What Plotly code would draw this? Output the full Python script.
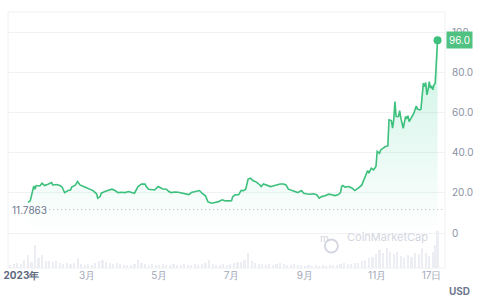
import pandas as pd
import plotly.graph_objects as go

BASE_DATE = "2023-01-01"

# price series: day offsets from BASE_DATE and price (USD)
price_days = [
    9, 11, 14, 15, 16, 19, 21, 23, 26, 29,
    30, 33, 36, 38, 39, 40, 43, 45, 46, 47,
    49, 51, 53, 56, 59, 61, 64, 67, 68, 70,
    71, 74, 77, 80, 83, 85, 88, 91, 94, 97,
    99, 102, 105, 108, 109, 111, 114, 116, 119, 121,
    123, 126, 128, 130, 133, 136, 139, 142, 145, 147,
    150, 153, 154, 156, 159, 161, 164, 167, 170, 173,
    175, 178, 181, 182, 184, 187, 189, 191, 193, 195,
    197, 199, 202, 205, 206, 208, 211, 214, 216, 219,
    222, 225, 227, 229, 232, 235, 237, 240, 242, 244,
    247, 250, 253, 255, 257, 260, 263, 266, 268, 271,
    273, 274, 275, 277, 280, 283, 285, 288, 290, 291,
    292, 294, 296, 297, 299, 301, 303, 304, 306, 307,
    309, 311, 313, 314, 316, 317, 318, 319, 320, 322,
    323, 324, 326, 327, 328, 329, 330, 331, 333, 334,
    335, 337, 338, 340, 341, 343, 344, 345, 346, 347,
    348, 349, 350, 351, 352, 353, 355,
]
prices = [
    15.4, 16.1, 23.5, 21.9, 23.7, 23.5, 24.9, 23.7, 24.4, 25.2,
    24.0, 24.2, 23.7, 22.9, 21.5, 20.2, 21.2, 21.5, 22.9, 23.2,
    23.9, 25.7, 24.0, 23.2, 22.4, 21.9, 21.2, 19.6, 17.4, 18.2,
    19.9, 20.7, 21.5, 21.9, 21.1, 20.2, 20.4, 20.2, 20.7, 20.2,
    19.9, 23.2, 24.5, 24.4, 23.2, 21.9, 21.5, 21.5, 23.2, 22.4,
    22.0, 21.9, 20.7, 20.2, 20.5, 20.4, 19.9, 19.6, 19.2, 20.2,
    20.5, 20.9, 21.2, 19.9, 18.6, 15.7, 14.9, 15.3, 15.7, 16.6,
    16.2, 16.1, 16.2, 18.2, 19.1, 19.1, 21.2, 21.2, 21.9, 26.9,
    27.4, 26.2, 25.4, 24.0, 23.2, 24.5, 24.0, 23.2, 23.5, 24.0,
    24.5, 24.5, 24.0, 21.9, 21.2, 20.7, 20.2, 21.2, 19.9, 19.6,
    19.4, 19.6, 19.1, 17.4, 18.2, 18.6, 19.4, 19.1, 18.7, 19.1,
    20.2, 23.2, 23.7, 22.9, 23.2, 22.4, 21.2, 22.4, 23.7, 23.9,
    25.4, 28.2, 31.2, 29.9, 32.3, 31.5, 33.2, 40.6, 39.8, 41.4,
    42.3, 43.1, 43.4, 56.4, 56.0, 52.2, 56.4, 65.5, 58.0, 58.0,
    61.0, 57.2, 52.2, 56.4, 58.0, 57.2, 58.4, 55.5, 58.0, 58.8,
    59.7, 63.3, 61.7, 61.3, 61.7, 74.6, 72.9, 74.9, 68.8, 71.3,
    75.4, 72.1, 73.3, 71.3, 73.8, 74.6, 96.0,
]

# volume (relative units) every ~3 days
volume_days = [
    -6, -3, 0, 3, 6, 9, 12, 15, 18, 21,
    24, 27, 30, 33, 36, 39, 42, 45, 48, 51,
    54, 57, 60, 63, 66, 69, 72, 75, 78, 81,
    84, 87, 90, 93, 96, 99, 102, 105, 108, 111,
    114, 117, 120, 123, 126, 129, 132, 135, 138, 141,
    144, 147, 150, 153, 156, 159, 162, 165, 168, 171,
    174, 177, 180, 183, 186, 189, 192, 195, 198, 201,
    204, 207, 210, 213, 216, 219, 222, 225, 228, 231,
    234, 237, 240, 243, 246, 249, 252, 255, 258, 261,
    264, 267, 270, 273, 276, 279, 282, 285, 288, 291,
    294, 297, 300, 303, 306, 309, 312, 315, 318, 321,
    324, 327, 330, 333, 336, 339, 342, 345, 348, 351,
    353, 355,
]
volumes = [
    3, 4, 5, 4, 8, 13, 6, 23, 10, 13,
    7, 7, 6, 7, 5, 4, 5, 4, 5, 10,
    4, 3, 4, 3, 5, 7, 8, 6, 5, 4,
    5, 4, 3, 3, 3, 4, 8, 5, 4, 3,
    4, 3, 3, 4, 3, 3, 4, 3, 3, 4,
    3, 3, 4, 3, 4, 5, 8, 4, 3, 3,
    4, 3, 4, 5, 6, 6, 8, 15, 7, 5,
    4, 4, 3, 4, 3, 4, 5, 4, 3, 3,
    4, 3, 3, 2, 3, 2, 3, 2, 3, 2,
    3, 3, 3, 4, 5, 4, 4, 5, 5, 7,
    8, 10, 11, 14, 18, 15, 20, 16, 14, 16,
    12, 10, 13, 11, 15, 14, 20, 15, 12, 16,
    23, 37,
]

reference_low = 11.7863
y_tick_vals = [0, 20, 40, 60, 80, 100]
y_tick_text = ["0", "20.0", "40.0", "60.0", "80.0", "100"]
x_tick_vals = ["2023-01-01", "2023-03-01", "2023-05-01", "2023-07-01",
               "2023-09-01", "2023-11-01", "2023-12-17"]
x_tick_text = ['&nbsp;&nbsp;&nbsp;<span style="color:#5e6a80"><b>2023年</b></span>',
               "3月", "5月", "7月", "9月", "11月", "17日"]

base = pd.Timestamp(BASE_DATE)
price_dates = base + pd.to_timedelta(price_days, unit="D")
vol_dates = base + pd.to_timedelta(volume_days, unit="D")

GREEN = "#3cc07c"
fig = go.Figure()

fig.add_trace(go.Bar(
    x=vol_dates, y=volumes, yaxis="y2",
    marker=dict(color="#eceef4", line=dict(width=0)),
    width=1.8 * 86400000, hoverinfo="skip", showlegend=False,
))

fig.add_trace(go.Scatter(
    x=price_dates, y=prices, mode="lines",
    line=dict(color=GREEN, width=1.6),
    fill="tozeroy",
    fillgradient=dict(type="vertical", start=0, stop=96,
                      colorscale=[[0, "rgba(22,199,132,0.0)"],
                                  [1, "rgba(22,199,132,0.22)"]]),
    showlegend=False,
))

fig.add_trace(go.Scatter(
    x=[price_dates[-1]], y=[prices[-1]], mode="markers",
    marker=dict(color=GREEN, size=8), showlegend=False,
))

fig.update_layout(
    width=480, height=307,
    margin=dict(l=8, r=35, t=12, b=39),
    paper_bgcolor="white", plot_bgcolor="white",
    font=dict(family="Inter", size=10, color="#8a91a3"),
    bargap=0,
    xaxis=dict(
        range=["2022-12-24 05:00", "2023-12-28 07:00"],
        tickvals=x_tick_vals, ticktext=x_tick_text,
        showgrid=False, zeroline=False, showline=False, ticks="",
        ticklabeloverflow="allow", automargin=False,
        tickfont=dict(size=10, color="#a2a8b9"),
    ),
    yaxis=dict(
        range=[-17.3, 110], side="right",
        tickvals=y_tick_vals, ticktext=y_tick_text,
        gridcolor="#f1f2f5", gridwidth=1, zeroline=False, showline=False,
        ticks="", ticklabelstandoff=6, automargin=False,
        tickfont=dict(size=10, color="#8a91a3"),
    ),
    yaxis2=dict(range=[0, 256], overlaying="y", visible=False),
)

# plot border
fig.add_shape(type="rect", xref="paper", yref="paper", x0=0, x1=1, y0=0, y1=1,
              line=dict(color="#eef0f4", width=1), layer="below")

# dotted reference line at the period low
fig.add_shape(type="line", xref="paper", yref="y", x0=0.085, x1=1,
              y0=reference_low, y1=reference_low,
              line=dict(color="#b5bac6", width=1, dash="1px,3px"))
fig.add_annotation(xref="paper", yref="y", x=0, y=reference_low,
                   text=f"{reference_low:.4f}", showarrow=False,
                   xanchor="left", xshift=2,
                   font=dict(size=10, color="#6f7890"))

# last price label
fig.add_annotation(xref="paper", yref="y", x=1, y=prices[-1],
                   text=f"{prices[-1]:.1f}", showarrow=False,
                   xanchor="left", xshift=1, bgcolor="#4fc180",
                   borderpad=2, font=dict(size=10, color="white"))

# USD label
fig.add_annotation(xref="paper", yref="paper", x=1, y=0, yshift=-15,
                   text="<b>USD</b>", showarrow=False, xanchor="left", xshift=2,
                   yanchor="top", font=dict(size=10, color="#6f7890"))

# watermark
fig.add_shape(type="circle", xref="paper", yref="paper",
              xsizemode="pixel", ysizemode="pixel", xanchor=0.74, yanchor=0.086,
              x0=-6.5, x1=6.5, y0=-6.5, y1=6.5,
              line=dict(color="#d3d6e0", width=1.8))
fig.add_annotation(xref="paper", yref="paper", x=0.74, y=0.086,
                   text="m", showarrow=False,
                   font=dict(size=10, color="#d3d6e0", family="Inter"))
fig.add_annotation(xref="paper", yref="paper", x=0.772, y=0.086,
                   text="CoinMarketCap", showarrow=False, xanchor="left",
                   font=dict(size=11, color="#d3d6e0", family="Inter"))

fig.write_html("out.html")
